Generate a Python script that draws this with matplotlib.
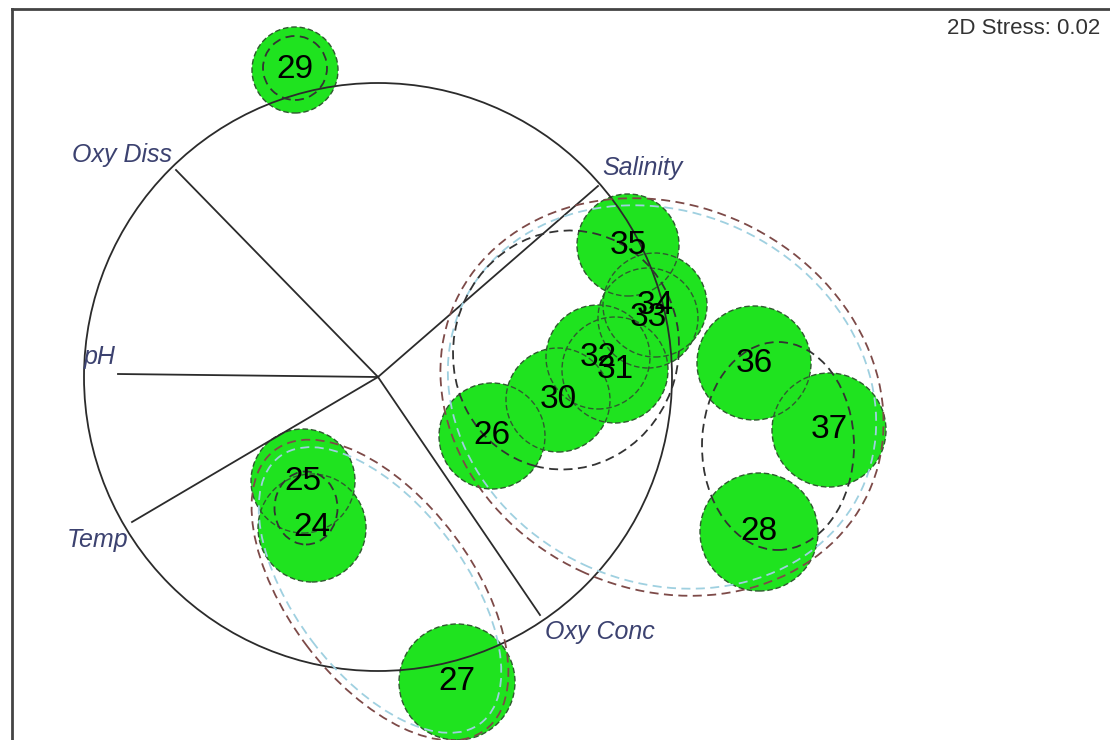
import numpy as np
import matplotlib.pyplot as plt
from matplotlib.patches import Circle, Ellipse

plt.rcParams['font.family'] = ['Liberation Sans', 'DejaVu Sans']

# MDS sample positions (x, y) and bubble radius
samples = ['24', '25', '26', '27', '28', '29', '30', '31', '32', '33', '34', '35', '36', '37']
xs = [3.00, 2.91, 4.80, 4.45, 7.47, 2.83, 5.46, 6.03, 5.86, 6.36, 6.43, 6.16, 7.42, 8.17]
ys = [2.12, 2.59, 3.04, 0.58, 2.08, 6.70, 3.40, 3.70, 3.83, 4.22, 4.35, 4.95, 3.77, 3.10]
radii = [0.54, 0.52, 0.53, 0.58, 0.59, 0.43, 0.52, 0.53, 0.52, 0.50, 0.52, 0.51, 0.57, 0.57]

# environmental vectors (from circle centre)
vec_names = ['Oxy Diss', 'pH', 'Temp', 'Oxy Conc', 'Salinity']
vec_dx = [-2.02, -2.60, -2.46, 1.62, 2.20]
vec_dy = [2.07, 0.03, -1.45, -2.38, 1.91]
label_x = [1.10, 0.88, 0.86, 5.88, 6.30]
label_y = [5.85, 3.83, 2.00, 1.08, 5.72]
circle_center = (3.66, 3.63)
circle_radius = 2.94

# cluster outlines: centre x, centre y, width, height, angle, colour
clusters = [
    (6.50, 3.43, 4.55, 3.84, -25, '#7d4a48'),
    (6.50, 3.43, 4.40, 3.70, -25, '#9fd0e0'),
    (5.54, 3.90, 2.25, 2.40, -15, '#333333'),
    (7.66, 2.94, 1.52, 2.08, 0, '#333333'),
    (3.68, 1.50, 3.50, 1.84, -53, '#7d4a48'),
    (3.68, 1.50, 3.34, 1.70, -53, '#9fd0e0'),
    (2.94, 2.32, 0.63, 0.73, 0, '#333333'),
    (2.83, 6.72, 0.64, 0.64, 0, '#333333'),
]

fig = plt.figure(figsize=(11.1, 7.4), dpi=100)
ax = fig.add_axes([12 / 1110, 0, 1 - 12 / 1110, 731 / 740])
ax.set_xlim(0, 10.98)
ax.set_ylim(0, 7.31)
ax.set_xticks([])
ax.set_yticks([])
for side in ['right', 'bottom']:
    ax.spines[side].set_visible(False)
for side in ['left', 'top']:
    ax.spines[side].set_color('#444444')
    ax.spines[side].set_linewidth(2)

# bubble fills first, outlines on top so overlaps stay visible
for x, y, r in zip(xs, ys, radii):
    ax.add_patch(Circle((x, y), r, facecolor='#1fe31f', edgecolor='none', zorder=1))
for x, y, r in zip(xs, ys, radii):
    ax.add_patch(Circle((x, y), r, facecolor='none', edgecolor='#2f5a2f',
                        lw=1.0, ls=(0, (4, 2)), zorder=2))

# vector overlay
ax.add_patch(Circle(circle_center, circle_radius, facecolor='none',
                    edgecolor='#2b2b2b', lw=1.3, zorder=3))
for dx, dy in zip(vec_dx, vec_dy):
    ax.plot([circle_center[0], circle_center[0] + dx],
            [circle_center[1], circle_center[1] + dy],
            color='#2b2b2b', lw=1.3, zorder=3)
for name, lx, ly in zip(vec_names, label_x, label_y):
    ax.text(lx, ly, name, fontsize=18, style='italic', color='#3c4270',
            ha='center', va='center', zorder=5)

# similarity contours
for cx, cy, w, h, ang, col in clusters:
    ax.add_patch(Ellipse((cx, cy), w, h, angle=ang, facecolor='none',
                         edgecolor=col, lw=1.3, ls=(0, (5, 3)), zorder=4))

for s, x, y in zip(samples, xs, ys):
    ax.text(x, y, s, fontsize=24, color='black', ha='center', va='center', zorder=6)

fig.text(1100 / 1110, 1 - 28 / 740, '2D Stress: 0.02', fontsize=16,
         color='#333333', ha='right', va='center')

fig.savefig('out.png', dpi=100)
